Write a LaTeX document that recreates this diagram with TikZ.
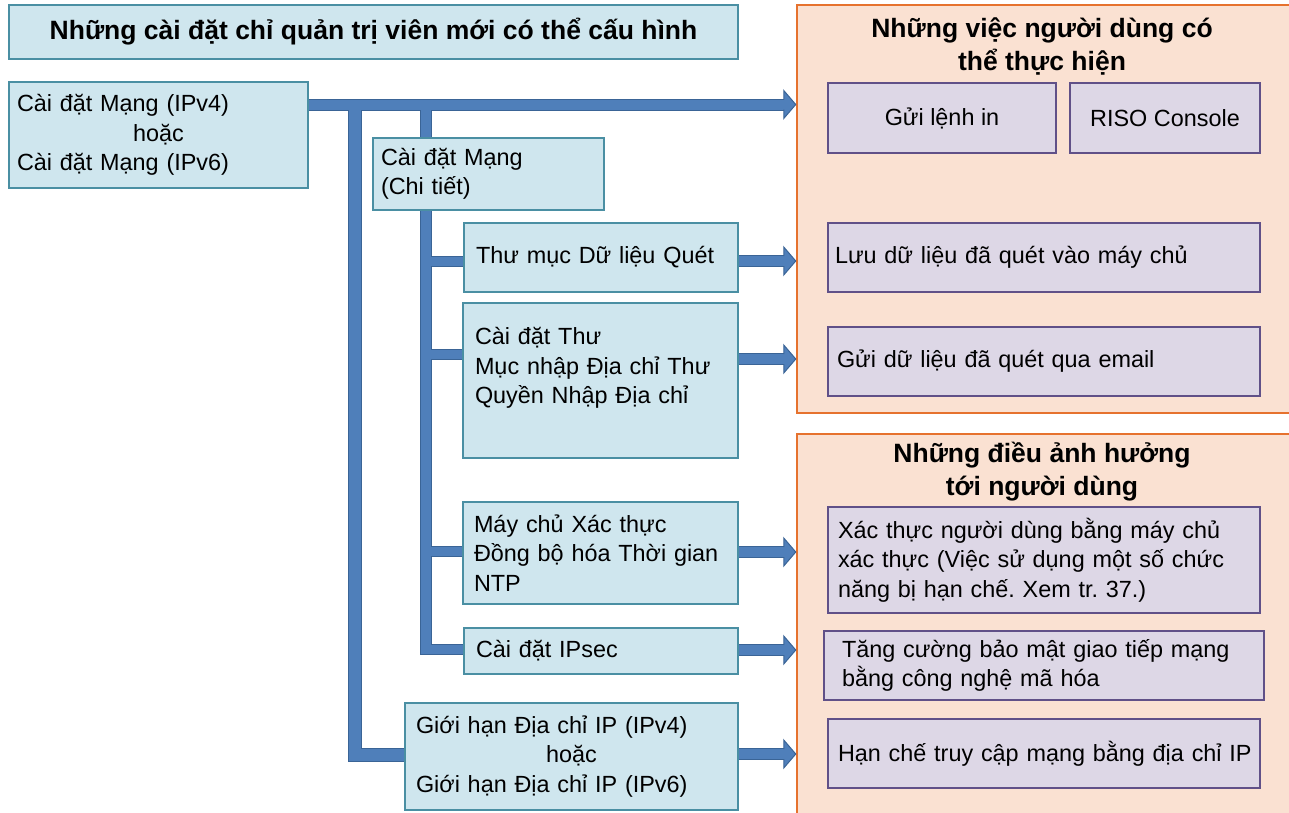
\documentclass[tikz,border=0pt]{standalone}
\usepackage{fontspec}
\setmainfont{Liberation Sans}
\frenchspacing
\usetikzlibrary{calc}
\pgfdeclarelayer{bg}
\pgfdeclarelayer{pipes}
\pgfsetlayers{bg,pipes,main}
\definecolor{boxfill}{HTML}{CFE6EE}
\definecolor{boxline}{HTML}{4A8FA3}
\definecolor{pipefill}{HTML}{4F7FBA}
\definecolor{pipeline}{HTML}{3A6496}
\definecolor{panelfill}{HTML}{FAE1D2}
\definecolor{panelline}{HTML}{E6722E}
\definecolor{itemfill}{HTML}{DDD7E6}
\definecolor{itemline}{HTML}{605088}
\tikzset{
  txt/.style={font=\fontsize{23.4}{29.5}\selectfont},
  bluebox/.style={txt, draw=boxline, fill=boxfill, line width=2pt, inner ysep=0pt, align=left},
  itembox/.style={txt, draw=itemline, fill=itemfill, line width=2pt, inner ysep=0pt, align=left},
  panel/.style={draw=panelline, fill=panelfill, line width=2.5pt, inner sep=0pt},
  ptitle/.style={font=\fontsize{26.5}{33}\selectfont\bfseries, align=center},
  pipeo/.style={draw=pipeline, line width=#1+2pt},
  pipei/.style={draw=pipefill, line width=#1},
}
\newcommand\headat[1]{%
  \fill[pipefill] ($(#1)+(-12,-14)$) -- (#1) -- ($(#1)+(-12,14)$) -- cycle;
  \draw[pipeline, line width=1pt, line join=miter] ($(#1)+(-12,-5)$) -- ($(#1)+(-12,-14)$) -- (#1) -- ($(#1)+(-12,14)$) -- ($(#1)+(-12,5)$);
}
\begin{document}
\begin{tikzpicture}[x=1pt,y=-1pt]
\useasboundingbox (0,0) rectangle (1289,812);
% panels
\begin{pgfonlayer}{bg}
\begin{scope}
\clip (0,0) rectangle (1289,812);
\node[panel, minimum width=500, minimum height=408] (P1) at (1047,209) {};
\node[panel, minimum width=500, minimum height=390] (P2) at (1047,629) {};
\end{scope}
\end{pgfonlayer}
\node[ptitle] (T1) at (1042,46.5) {Những việc người dùng có\\thể thực hiện};
\node[ptitle] (T2) at (1042,471.5) {Những điều ảnh hưởng\\tới người dùng};

% title
\node[draw=boxline, fill=boxfill, line width=2pt, font=\fontsize{26.5}{32}\selectfont\bfseries, minimum width=729, minimum height=54] (title) at (373.5,32) {Những cài đặt chỉ quản trị viên mới có thể cấu hình};

% left boxes
\node[bluebox, minimum width=299, minimum height=106, text width=283, inner xsep=8] (A) at (158.5,135)
  {Cài đặt Mạng (IPv4)\\\makebox[\linewidth]{hoặc}\\Cài đặt Mạng (IPv6)};
\node[bluebox, minimum width=231, minimum height=72, text width=215, inner xsep=8] (B) at (488.5,174)
  {Cài đặt Mạng\\(Chi tiết)};
\node[bluebox, minimum width=274, minimum height=69, text width=250, inner xsep=12] (C) at (601,257.5)
  {Thư mục Dữ liệu Quét};
\node[bluebox, minimum width=275, minimum height=155, text width=251, inner xsep=12] (D) at (600.5,380.5)
  {Cài đặt Thư\\Mục nhập Địa chỉ Thư\\Quyền Nhập Địa chỉ\\\mbox{}};
\node[bluebox, minimum width=275, minimum height=102, text width=253, inner xsep=11] (E) at (600.5,553)
  {Máy chủ Xác thực\\Đồng bộ hóa Thời gian\\NTP};
\node[bluebox, minimum width=274, minimum height=46, text width=250, inner xsep=12] (F) at (601,651)
  {Cài đặt IPsec};
\node[bluebox, minimum width=333, minimum height=107, text width=311, inner xsep=11] (G) at (571.5,756.5)
  {Giới hạn Địa chỉ IP (IPv4)\\\makebox[\linewidth]{hoặc}\\Giới hạn Địa chỉ IP (IPv6)};

% right items
\node[itembox, minimum width=228, minimum height=70, align=center] (R1) at (942,118) {Gửi lệnh in};
\node[itembox, minimum width=190, minimum height=70, align=center] (R2) at (1165,118) {RISO Console};
\node[itembox, minimum width=432, minimum height=69, text width=418, inner xsep=7] (R3) at (1044,257.5)
  {Lưu dữ liệu đã quét vào máy chủ};
\node[itembox, minimum width=432, minimum height=69, text width=414, inner xsep=9] (R4) at (1044,361)
  {Gửi dữ liệu đã quét qua email};
\node[itembox, minimum width=432, minimum height=106, text width=412, inner xsep=10] (R5) at (1044,560)
  {Xác thực người dùng bằng máy chủ\\xác thực (Việc sử dụng một số chức\\năng bị hạn chế. Xem tr. 37.)};
\node[itembox, minimum width=440, minimum height=69, text width=404, inner xsep=18] (R6) at (1044,665.5)
  {Tăng cường bảo mật giao tiếp mạng\\bằng công nghệ mã hóa};
\node[itembox, minimum width=432, minimum height=69, text width=412, inner xsep=10] (R7) at (1044,753.5)
  {\mbox{Hạn chế truy cập mạng bằng địa chỉ IP}};

% connector heights and trunk junctions
\coordinate (j0) at (355,104.5);
\coordinate (j1) at (426,104.5);
\coordinate (yC) at (0,261);
\coordinate (yD) at (0,359);
\coordinate (yE) at (0,552);
\coordinate (yF) at (0,650);
\coordinate (yG) at (0,754);
\coordinate (tip0) at (P1.west |- j0);
\coordinate (hC) at (P1.west |- yC);
\coordinate (hD) at (P1.west |- yD);
\coordinate (hE) at (P2.west |- yE);
\coordinate (hF) at (P2.west |- yF);
\coordinate (hG) at (P2.west |- yG);

% pipes: outline pass then inner pass
\newcommand\pipes[1]{%
  \draw[#1=10pt] (A.east |- j0) -- ($(tip0)+(-12,0)$);
  \draw[#1=12pt] (j0) |- ($(G.west)+(0,-1.5)$);
  \draw[#1=9.5pt] (j1) |- ($(F.west)+(0,-1.5)$);
  \draw[#1=9pt] (j1 |- C.west) ++(0,4) -- ($(C.west)+(0,4)$);
  \draw[#1=9pt] (j1 |- D.west) ++(0,-26) -- ($(D.west)+(0,-26)$);
  \draw[#1=9pt] (j1 |- E.west) ++(0,-2) -- ($(E.west)+(0,-2)$);
  \draw[#1=10pt] (C.east |- yC) -- ($(hC)+(-11,0)$);
  \draw[#1=10pt] (D.east |- yD) -- ($(hD)+(-11,0)$);
  \draw[#1=10pt] (E.east |- yE) -- ($(hE)+(-11,0)$);
  \draw[#1=10pt] (F.east |- yF) -- ($(hF)+(-11,0)$);
  \draw[#1=10pt] (G.east |- yG) -- ($(hG)+(-11,0)$);
}
\begin{pgfonlayer}{pipes}
\pipes{pipeo}
\pipes{pipei}
\headat{tip0}
\headat{hC}
\headat{hD}
\headat{hE}
\headat{hF}
\headat{hG}
\end{pgfonlayer}
\end{tikzpicture}
\end{document}
